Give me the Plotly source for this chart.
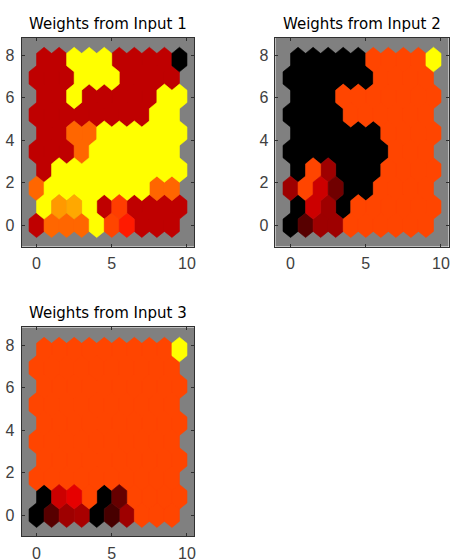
import math
import plotly.graph_objects as go

# Panel titles
panel_titles = ["Weights from Input 1", "Weights from Input 2", "Weights from Input 3"]

# Normalized weight level (0..1) of each SOM neuron, rows listed bottom (row 0) to top (row 9),
# 10 neurons per row (hexagonal topology, odd rows shifted by half a cell)
input1_levels = [
    [0.375, 0.70, 0.70, 0.70, 1.00, 0.635, 0.55, 0.375, 0.375, 0.375],
    [1.00, 0.80, 0.83, 1.00, 0.375, 0.62, 0.375, 0.375, 0.375, 0.375],
    [0.70, 1.00, 1.00, 1.00, 1.00, 1.00, 1.00, 1.00, 0.70, 0.70],
    [0.375, 1.00, 1.00, 1.00, 1.00, 1.00, 1.00, 1.00, 1.00, 1.00],
    [0.375, 0.375, 0.375, 0.70, 1.00, 1.00, 1.00, 1.00, 1.00, 1.00],
    [0.375, 0.375, 0.70, 0.70, 1.00, 1.00, 1.00, 1.00, 1.00, 1.00],
    [0.375, 0.375, 0.375, 0.375, 0.375, 0.375, 0.375, 0.375, 1.00, 1.00],
    [0.375, 0.375, 1.00, 0.375, 0.375, 0.375, 0.375, 0.375, 1.00, 1.00],
    [0.375, 0.375, 0.375, 1.00, 1.00, 1.00, 0.375, 0.375, 0.375, 0.375],
    [0.375, 0.375, 1.00, 1.00, 1.00, 0.375, 0.375, 0.375, 0.375, 0.00],
]
input2_levels = [
    [0.00, 0.17, 0.31, 0.31, 0.635, 0.635, 0.635, 0.635, 0.635, 0.635],
    [0.00, 0.40, 0.31, 0.00, 0.635, 0.635, 0.635, 0.635, 0.635, 0.635],
    [0.31, 0.635, 0.40, 0.22, 0.00, 0.00, 0.635, 0.635, 0.635, 0.635],
    [0.00, 0.635, 0.31, 0.00, 0.00, 0.00, 0.635, 0.635, 0.635, 0.635],
    [0.00, 0.00, 0.00, 0.00, 0.00, 0.00, 0.00, 0.635, 0.635, 0.635],
    [0.00, 0.00, 0.00, 0.00, 0.00, 0.00, 0.635, 0.635, 0.635, 0.635],
    [0.00, 0.00, 0.00, 0.00, 0.635, 0.635, 0.635, 0.635, 0.635, 0.635],
    [0.00, 0.00, 0.00, 0.635, 0.635, 0.635, 0.635, 0.635, 0.635, 0.635],
    [0.00, 0.00, 0.00, 0.00, 0.00, 0.00, 0.635, 0.635, 0.635, 0.635],
    [0.00, 0.00, 0.00, 0.00, 0.00, 0.635, 0.635, 0.635, 0.635, 1.00],
]
input3_levels = [
    [0.00, 0.17, 0.31, 0.33, 0.00, 0.14, 0.31, 0.635, 0.635, 0.635],
    [0.00, 0.40, 0.45, 0.635, 0.00, 0.20, 0.635, 0.635, 0.635, 0.635],
    [0.635] * 10,
    [0.635] * 10,
    [0.635] * 10,
    [0.635] * 10,
    [0.635] * 10,
    [0.635] * 10,
    [0.635] * 10,
    [0.635, 0.635, 0.635, 0.635, 0.635, 0.635, 0.635, 0.635, 0.635, 1.00],
]

x_ticks = [0, 5, 10]
y_ticks = [0, 2, 4, 6, 8]

panels = [input1_levels, input2_levels, input3_levels]
x_domains = [[0.0478, 0.4322], [0.6122, 0.9967], [0.0478, 0.4322]]
y_domains = [[0.5598, 0.9330], [0.5598, 0.9330], [0.0420, 0.4152]]


def level_color(v):
    r = min(2 * v, 1.0)
    g = max(2 * v - 1, 0.0)
    return "rgb(%d,%d,0)" % (round(255 * r), round(255 * g))


# hexagon outline (MATLAB hextop patch shape)
hx = [-0.5, 0.0, 0.5, 0.5, 0.0, -0.5, -0.5]
hy = [v * math.sqrt(0.75) / 3 for v in [1, 2, 1, -1, -2, -1, 1]]

fig = go.Figure()
for p, levels in enumerate(panels):
    groups = {}
    for r, row in enumerate(levels):
        for c, v in enumerate(row):
            cx = c + 0.5 * (r % 2)
            cy = r * math.sqrt(0.75)
            col = level_color(v)
            gx, gy = groups.setdefault(col, ([], []))
            gx.extend([cx + d for d in hx] + [None])
            gy.extend([cy + d for d in hy] + [None])
    suffix = "" if p == 0 else str(p + 1)
    for col, (gx, gy) in groups.items():
        fig.add_trace(go.Scatter(
            x=gx, y=gy, mode="lines", fill="toself",
            fillcolor=col, line=dict(color=col, width=0.6),
            hoverinfo="skip", showlegend=False,
            xaxis="x" + suffix, yaxis="y" + suffix,
        ))

tick_font = dict(family="Liberation Sans Narrow, Liberation Sans, sans-serif", size=16, color="#404040")
axis_common = dict(
    showgrid=False, zeroline=False, showline=True, linecolor="#303030", linewidth=1,
    mirror="ticks", ticks="inside", ticklen=3, tickcolor="#303030",
    tickfont=tick_font, automargin=False, fixedrange=True,
)

layout = dict(
    width=450, height=560, margin=dict(l=0, r=0, t=0, b=0),
    paper_bgcolor="white", plot_bgcolor="#808080", template="none",
    showlegend=False, annotations=[],
)
for p in range(3):
    suffix = "" if p == 0 else str(p + 1)
    layout["xaxis" + suffix] = dict(
        axis_common, domain=x_domains[p], range=[-1, 10.5],
        tickvals=x_ticks, ticktext=[str(t) for t in x_ticks],
        anchor="y" + suffix, ticklabelstandoff=2,
    )
    layout["yaxis" + suffix] = dict(
        axis_common, domain=y_domains[p], range=[-1, 8.83],
        tickvals=y_ticks, ticktext=[str(t) for t in y_ticks],
        anchor="x" + suffix, ticklabelstandoff=3,
    )
    layout["annotations"].append(dict(
        text=panel_titles[p], xref="paper", yref="paper",
        x=sum(x_domains[p]) / 2, y=y_domains[p][1], xanchor="center", yanchor="bottom",
        yshift=3, showarrow=False,
        font=dict(family="DejaVu Sans, sans-serif", size=15, color="black"),
    ))

fig.update_layout(**layout)
fig.write_html(
    "out.html",
    config={"displayModeBar": False},
    post_script="document.body.style.margin='0';document.body.style.overflow='hidden';",
)
